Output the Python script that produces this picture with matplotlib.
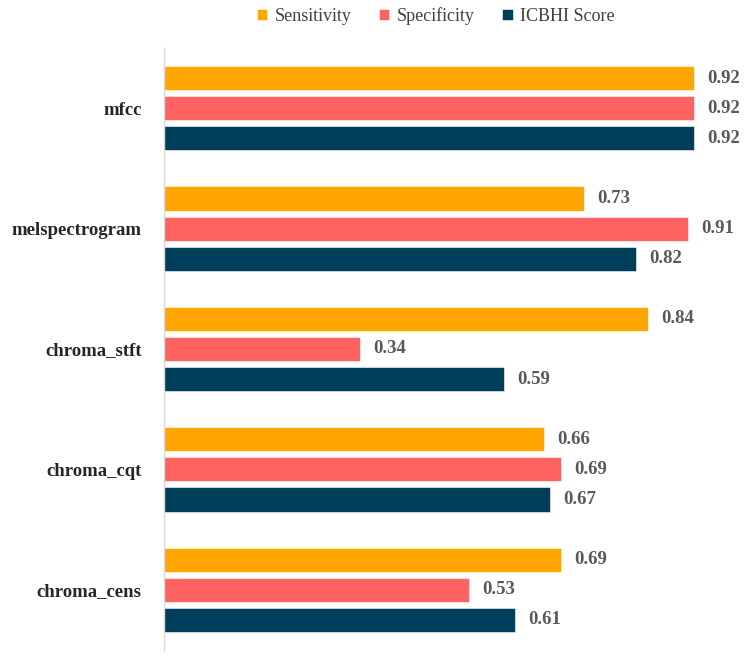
import matplotlib.pyplot as plt
import numpy as np

# ── Data ──────────────────────────────────────────────────────────────────────
features = ["mfcc", "melspectrogram", "chroma_stft", "chroma_cqt", "chroma_cens"]
sensitivity = [0.92, 0.73, 0.84, 0.66, 0.69]
specificity = [0.92, 0.91, 0.34, 0.69, 0.53]
icbhi_score = [0.92, 0.82, 0.59, 0.67, 0.61]

series_names = ["Sensitivity", "Specificity", "ICBHI Score"]
series_colors = ["#FFA600", "#FF6361", "#003F5C"]

FONT = "Liberation Serif"

# ── Figure ────────────────────────────────────────────────────────────────────
fig = plt.figure(figsize=(7.47, 6.55), dpi=100)
ax = fig.add_axes([164 / 747, 5 / 655, 1 - 164 / 747, 602 / 655])

y = np.arange(len(features))
offsets = [-0.25, 0.0, 0.25]
bar_h = 0.2

for vals, name, color, off in zip([sensitivity, specificity, icbhi_score],
                                  series_names, series_colors, offsets):
    bars = ax.barh(y + off, vals, height=bar_h, color=color, label=name,
                   edgecolor="white", linewidth=0.4)
    for b, v in zip(bars, vals):
        ax.annotate(f"{v:.2f}", xy=(b.get_width(), b.get_y() + b.get_height() / 2),
                    xytext=(13, 0), textcoords="offset pixels",
                    va="center", ha="left", fontsize=13.5, fontweight="bold",
                    family=FONT, color="#595959")

ax.set_yticks(y)
ax.set_yticklabels(features, fontsize=13.5, fontweight="bold", family=FONT,
                   color="#262626")
ax.set_ylim(len(features) - 0.5, -0.5)
ax.set_xlim(0, 583 / 576)

ax.tick_params(axis="y", length=0, pad=16)
ax.set_xticks([])
for s in ["top", "right", "bottom"]:
    ax.spines[s].set_visible(False)
ax.spines["left"].set_color("#D9D9D9")
ax.spines["left"].set_linewidth(1.0)

leg = fig.legend(loc="upper center", bbox_to_anchor=(0.583, 1.014), ncol=3,
                 frameon=False, prop={"family": FONT, "size": 13},
                 handlelength=0.6, handleheight=0.6, handletextpad=0.4,
                 columnspacing=1.5)
for t in leg.get_texts():
    t.set_color("#404040")

fig.savefig("out.png", dpi=100, facecolor="white")
